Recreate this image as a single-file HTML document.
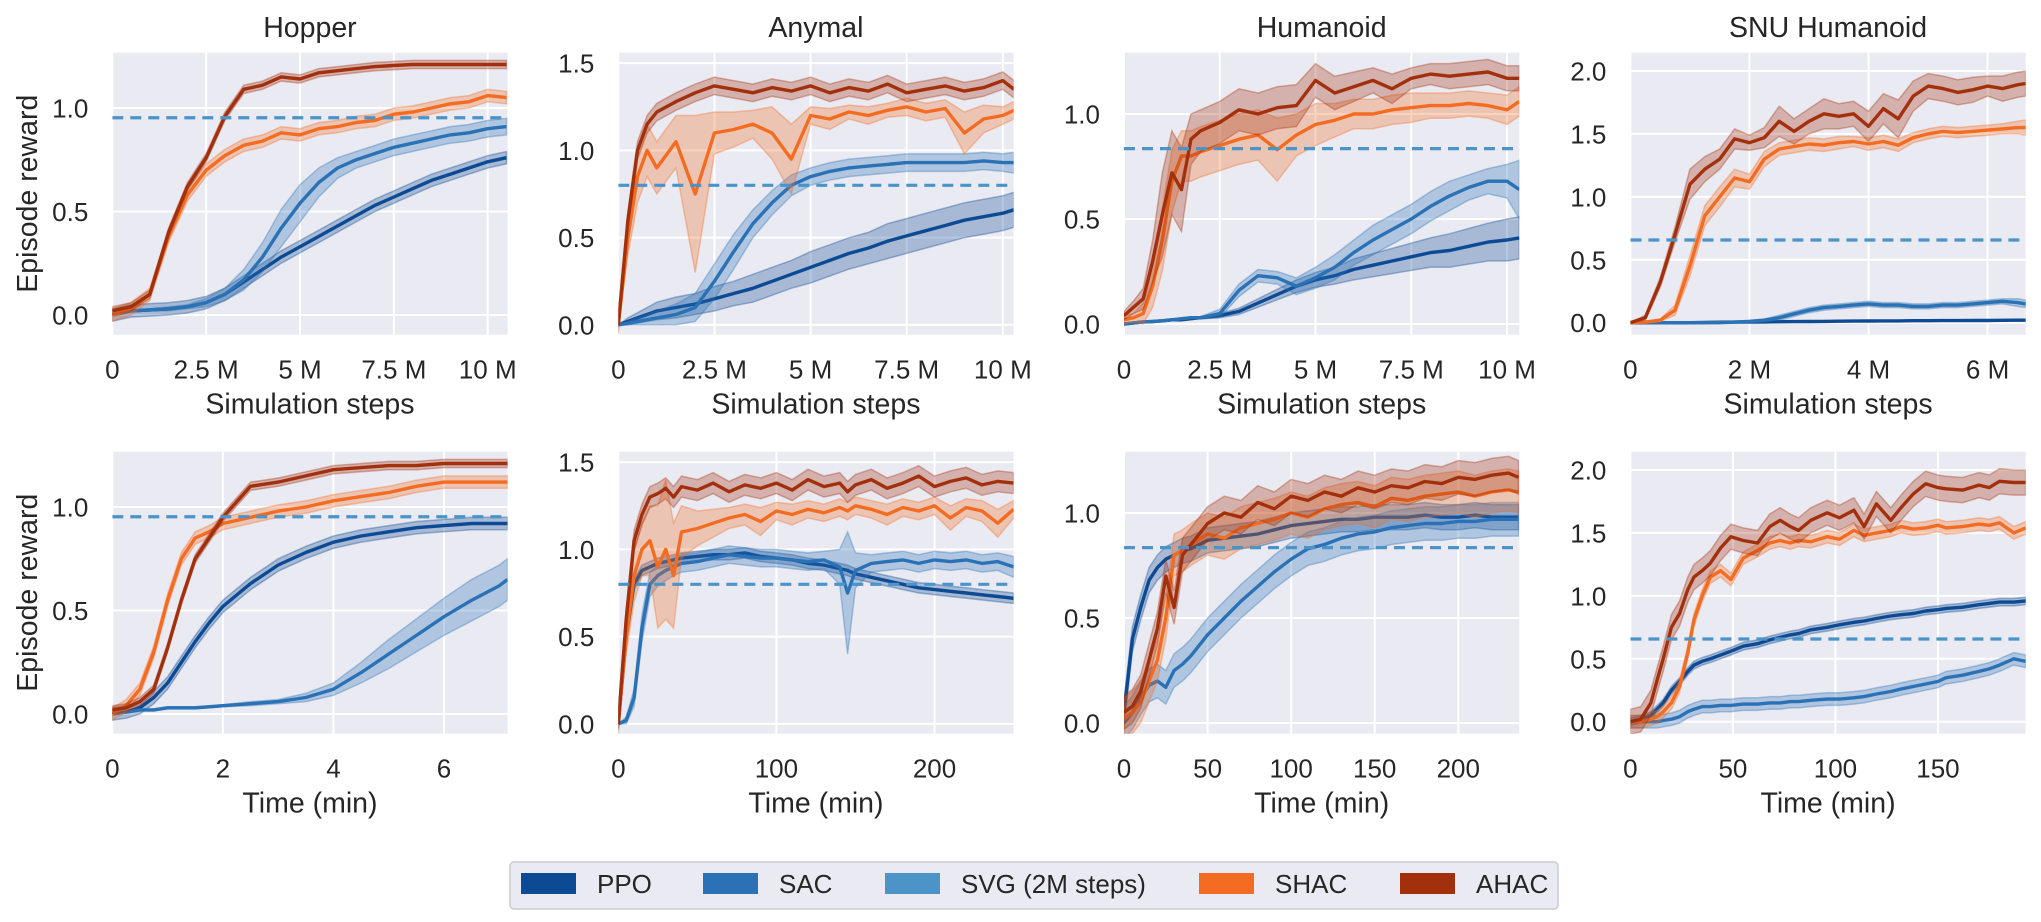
<!DOCTYPE html>
<html><head><meta charset="utf-8">
<style>
html,body{margin:0;padding:0;background:#fff;}
svg{display:block;font-family:"Liberation Sans",Arial,sans-serif;}
</style></head>
<body>
<svg id="chart" width="2041" height="922" viewBox="0 0 2041 922" xmlns="http://www.w3.org/2000/svg"></svg>
<script>
// ---------- data ----------
const titles = ["Hopper","Anymal","Humanoid","SNU Humanoid"];
const svgBaseline = [0.953, 0.80, 0.835, 0.657];

const hopperStepsX = [0,0.5,1,1.5,2,2.5,3,3.5,4,4.5,5,5.5,6,6.5,7,7.5,8,8.5,9,9.5,10,10.5];
const hopperStepsAHAC = [0.02,0.04,0.10,0.40,0.62,0.76,0.96,1.09,1.11,1.15,1.14,1.17,1.18,1.19,1.20,1.205,1.21,1.21,1.21,1.21,1.21,1.21];
const hopperStepsSHAC = [0.0,0.03,0.10,0.38,0.58,0.70,0.77,0.82,0.84,0.88,0.87,0.90,0.91,0.93,0.94,0.97,0.98,1.00,1.02,1.03,1.06,1.05];
const hopperStepsSAC = [0,0.02,0.025,0.03,0.04,0.06,0.10,0.17,0.28,0.42,0.54,0.64,0.71,0.75,0.78,0.81,0.83,0.85,0.87,0.88,0.90,0.91];
const hopperStepsSACSpread = [0,0.005,0.005,0.01,0.01,0.02,0.03,0.05,0.07,0.09,0.09,0.07,0.05,0.04,0.04,0.04,0.04,0.04,0.04,0.04,0.04,0.04];
const hopperStepsPPO = [0,0.02,0.025,0.03,0.04,0.06,0.10,0.16,0.22,0.28,0.33,0.38,0.43,0.48,0.53,0.57,0.61,0.65,0.68,0.71,0.74,0.76];

const hopperTimeX = [0,0.25,0.5,0.75,1,1.25,1.5,1.75,2,2.5,3,3.5,4,4.5,5,5.5,6,6.5,7,7.15];
const hopperTimeAHAC = [0.02,0.03,0.06,0.12,0.32,0.55,0.75,0.85,0.95,1.10,1.12,1.15,1.18,1.19,1.20,1.20,1.21,1.21,1.21,1.21];
const hopperTimeSHAC = [0.0,0.04,0.12,0.30,0.55,0.75,0.85,0.88,0.92,0.95,0.98,1.00,1.03,1.05,1.07,1.10,1.12,1.12,1.12,1.12];
const hopperTimePPO = [0,0.01,0.03,0.08,0.15,0.25,0.35,0.44,0.52,0.63,0.72,0.78,0.83,0.86,0.88,0.90,0.91,0.92,0.92,0.92];
const hopperTimeSAC = [0,0.01,0.02,0.02,0.03,0.03,0.03,0.035,0.04,0.05,0.06,0.08,0.12,0.20,0.29,0.38,0.47,0.55,0.62,0.65];
const hopperTimeSACSpread = [0,0.005,0.005,0.005,0.005,0.005,0.005,0.005,0.005,0.01,0.01,0.02,0.03,0.05,0.07,0.08,0.09,0.10,0.10,0.10];

const anymalStepsX = [0,0.25,0.5,0.75,1,1.5,2,2.5,3,3.5,4,4.5,5,5.5,6,6.5,7,7.5,8,8.5,9,9.5,10,10.29];
const anymalStepsAHAC = [0,0.6,1.0,1.15,1.22,1.28,1.33,1.37,1.35,1.33,1.36,1.34,1.37,1.33,1.36,1.34,1.38,1.33,1.35,1.37,1.34,1.36,1.40,1.35];
const anymalStepsSHAC = [0,0.5,0.85,1.0,0.9,1.05,0.75,1.1,1.12,1.15,1.1,0.95,1.2,1.18,1.22,1.2,1.23,1.25,1.22,1.24,1.1,1.18,1.2,1.23];
const anymalStepsSHACSpread = [0,0.1,0.15,0.15,0.15,0.15,0.45,0.12,0.1,0.08,0.15,0.2,0.05,0.06,0.04,0.05,0.04,0.05,0.05,0.05,0.12,0.08,0.05,0.05];
const anymalStepsSAC = [0,0.01,0.02,0.03,0.04,0.06,0.1,0.25,0.42,0.58,0.7,0.8,0.85,0.88,0.9,0.91,0.92,0.93,0.93,0.93,0.93,0.94,0.93,0.93];
const anymalStepsSACSpread = [0,0.01,0.02,0.03,0.04,0.06,0.08,0.1,0.1,0.08,0.07,0.06,0.05,0.05,0.05,0.05,0.05,0.05,0.05,0.05,0.05,0.05,0.05,0.06];
const anymalStepsPPO = [0,0.02,0.04,0.06,0.08,0.1,0.12,0.15,0.18,0.21,0.25,0.29,0.33,0.37,0.41,0.44,0.48,0.51,0.54,0.57,0.6,0.62,0.64,0.66];
const anymalStepsPPOSpread = [0,0.02,0.03,0.04,0.05,0.06,0.06,0.07,0.07,0.08,0.08,0.08,0.09,0.09,0.09,0.09,0.1,0.1,0.1,0.1,0.1,0.1,0.1,0.1];

const anymalTimeX = [0,5,10,15,20,25,30,35,40,50,60,70,80,90,100,110,120,130,140,145,150,160,170,180,190,200,210,220,230,240,250];
const anymalTimeAHAC = [0,0.6,1.05,1.2,1.3,1.32,1.35,1.3,1.36,1.34,1.38,1.33,1.37,1.35,1.38,1.34,1.4,1.36,1.38,1.33,1.37,1.4,1.35,1.38,1.42,1.36,1.39,1.41,1.37,1.39,1.38];
const anymalTimeSHAC = [0,0.5,0.85,1.0,1.05,0.9,1.0,0.85,1.1,1.12,1.15,1.18,1.2,1.16,1.22,1.2,1.23,1.21,1.24,1.22,1.25,1.23,1.2,1.24,1.22,1.25,1.18,1.24,1.22,1.15,1.23];
const anymalTimeSHACSpread = [0,0.1,0.15,0.15,0.2,0.35,0.4,0.3,0.15,0.1,0.08,0.06,0.06,0.08,0.05,0.06,0.05,0.05,0.05,0.05,0.05,0.05,0.06,0.05,0.05,0.05,0.07,0.05,0.06,0.08,0.05];
const anymalTimeSAC = [0,0.02,0.15,0.55,0.8,0.85,0.88,0.9,0.92,0.93,0.95,0.97,0.96,0.95,0.95,0.94,0.93,0.94,0.9,0.75,0.88,0.92,0.93,0.94,0.92,0.94,0.93,0.94,0.92,0.93,0.9];
const anymalTimeSACSpread = [0,0.02,0.05,0.08,0.07,0.06,0.06,0.05,0.05,0.05,0.05,0.05,0.05,0.05,0.05,0.05,0.05,0.05,0.1,0.35,0.1,0.05,0.05,0.05,0.05,0.05,0.05,0.05,0.05,0.05,0.06];
const anymalTimePPO = [0,0.5,0.8,0.88,0.9,0.92,0.93,0.94,0.95,0.96,0.97,0.97,0.98,0.96,0.95,0.94,0.92,0.91,0.89,0.88,0.86,0.84,0.82,0.8,0.78,0.77,0.76,0.75,0.74,0.73,0.72];

const humStepsX = [0,0.25,0.5,0.75,1,1.25,1.5,1.75,2,2.5,3,3.5,4,4.5,5,5.5,6,6.5,7,7.5,8,8.5,9,9.5,10,10.32];
const humStepsAHAC = [0.04,0.08,0.12,0.3,0.52,0.72,0.64,0.88,0.92,0.96,1.02,1.0,1.03,1.04,1.16,1.1,1.13,1.16,1.12,1.17,1.19,1.18,1.19,1.2,1.17,1.17];
const humStepsAHACSpread = [0.02,0.03,0.05,0.1,0.2,0.2,0.2,0.12,0.1,0.1,0.1,0.1,0.1,0.1,0.08,0.08,0.07,0.06,0.07,0.05,0.05,0.06,0.06,0.06,0.06,0.06];
const humStepsSHAC = [0.02,0.03,0.05,0.18,0.4,0.68,0.8,0.8,0.82,0.85,0.88,0.9,0.83,0.9,0.95,0.97,1.0,1.0,1.02,1.03,1.04,1.04,1.05,1.04,1.02,1.06];
const humStepsSHACSpread = [0.02,0.02,0.05,0.1,0.15,0.15,0.12,0.12,0.12,0.12,0.12,0.12,0.15,0.1,0.1,0.08,0.07,0.07,0.07,0.07,0.06,0.06,0.06,0.06,0.07,0.07];
const humStepsSAC = [0,0.005,0.01,0.012,0.015,0.02,0.025,0.03,0.03,0.05,0.16,0.23,0.22,0.18,0.22,0.27,0.34,0.40,0.45,0.50,0.56,0.61,0.65,0.68,0.68,0.64];
const humStepsSACSpread = [0,0,0,0,0,0,0,0,0.005,0.02,0.03,0.03,0.03,0.04,0.05,0.06,0.06,0.07,0.07,0.07,0.07,0.07,0.06,0.06,0.08,0.14];
const humStepsPPO = [0,0.005,0.01,0.012,0.015,0.02,0.02,0.025,0.03,0.04,0.06,0.1,0.14,0.18,0.21,0.23,0.26,0.28,0.30,0.32,0.34,0.35,0.37,0.39,0.40,0.41];
const humStepsPPOSpread = [0,0,0,0,0,0,0,0,0.005,0.01,0.015,0.02,0.025,0.03,0.035,0.04,0.05,0.055,0.06,0.065,0.07,0.08,0.085,0.09,0.1,0.1];

const humTimeX = [0,5,10,15,20,25,30,35,40,50,60,70,80,90,100,110,120,130,140,150,160,170,180,190,200,210,220,230,236];
const humTimeAHAC = [0.05,0.08,0.15,0.3,0.45,0.7,0.55,0.8,0.85,0.95,1.0,0.98,1.05,1.02,1.08,1.06,1.1,1.08,1.12,1.1,1.13,1.12,1.15,1.14,1.17,1.16,1.18,1.19,1.17];
const humTimeSHAC = [0.02,0.05,0.1,0.2,0.3,0.5,0.8,0.82,0.85,0.9,0.88,0.93,0.95,0.97,1.0,0.98,1.02,1.04,1.05,1.03,1.07,1.06,1.08,1.09,1.1,1.08,1.1,1.11,1.1];
const humTimePPO = [0.05,0.4,0.55,0.68,0.74,0.78,0.8,0.82,0.83,0.87,0.88,0.89,0.9,0.92,0.94,0.95,0.96,0.97,0.97,0.98,0.98,0.98,0.99,0.98,0.98,0.99,0.98,0.98,0.98];
const humTimeSAC = [0,0.05,0.12,0.18,0.2,0.17,0.25,0.28,0.32,0.42,0.5,0.58,0.65,0.72,0.78,0.83,0.85,0.88,0.9,0.91,0.93,0.94,0.95,0.95,0.96,0.96,0.97,0.97,0.97];

const snuStepsX = [0,0.25,0.5,0.75,1,1.25,1.5,1.75,2,2.25,2.5,2.75,3,3.25,3.5,3.75,4,4.25,4.5,4.75,5,5.25,5.5,5.75,6,6.25,6.5,6.64];
const snuStepsAHAC = [0,0.04,0.32,0.7,1.1,1.22,1.3,1.46,1.43,1.47,1.6,1.52,1.6,1.66,1.64,1.66,1.56,1.7,1.62,1.8,1.88,1.86,1.83,1.85,1.88,1.86,1.89,1.90];
const snuStepsAHACSpread = [0,0.02,0.04,0.06,0.12,0.1,0.08,0.08,0.06,0.08,0.12,0.1,0.1,0.12,0.1,0.1,0.12,0.12,0.15,0.12,0.1,0.1,0.1,0.1,0.08,0.1,0.1,0.1];
const snuStepsSHAC = [0,0.005,0.02,0.1,0.45,0.85,1.0,1.15,1.12,1.3,1.38,1.4,1.42,1.41,1.43,1.44,1.42,1.44,1.41,1.47,1.50,1.52,1.51,1.52,1.53,1.54,1.55,1.55];
const snuStepsSHACSpread = [0,0.005,0.01,0.04,0.08,0.08,0.08,0.07,0.06,0.06,0.05,0.05,0.05,0.05,0.05,0.04,0.05,0.05,0.05,0.04,0.04,0.04,0.04,0.04,0.04,0.04,0.05,0.06];
const snuStepsSAC = [0,0,0,0,0,0,0,0.005,0.01,0.02,0.04,0.07,0.1,0.12,0.13,0.14,0.15,0.14,0.14,0.13,0.13,0.14,0.14,0.15,0.16,0.17,0.16,0.15];
const snuStepsSACSpread = [0,0,0,0,0,0,0,0.005,0.01,0.01,0.02,0.02,0.02,0.02,0.02,0.02,0.02,0.02,0.02,0.02,0.02,0.02,0.02,0.02,0.02,0.02,0.03,0.03];
const snuStepsPPO = [0,0,0,0,0,0.002,0.004,0.005,0.006,0.007,0.008,0.009,0.01,0.011,0.012,0.013,0.014,0.015,0.015,0.016,0.016,0.017,0.017,0.018,0.018,0.019,0.02,0.02];

const snuTimeX = [0,5,10,13,16,20,24,28,31,35,39,44,49,55,62,68,73,78,82,88,96,102,109,114,120,127,132,138,144,150,154,162,170,175,180,187,192.8];
const snuTimeAHAC = [0,0.02,0.15,0.33,0.5,0.75,0.86,1.05,1.15,1.2,1.26,1.38,1.47,1.44,1.42,1.55,1.60,1.55,1.52,1.60,1.66,1.62,1.68,1.55,1.73,1.60,1.70,1.81,1.89,1.86,1.85,1.84,1.88,1.86,1.91,1.90,1.90];
const snuTimeSHAC = [0,0,0.02,0.04,0.08,0.15,0.28,0.55,0.81,1.0,1.15,1.2,1.13,1.3,1.36,1.42,1.44,1.42,1.44,1.43,1.47,1.45,1.52,1.48,1.50,1.52,1.55,1.53,1.54,1.56,1.54,1.55,1.57,1.56,1.58,1.50,1.54];
const snuTimePPO = [0,0.02,0.05,0.1,0.15,0.25,0.32,0.4,0.45,0.48,0.5,0.53,0.56,0.6,0.62,0.65,0.67,0.69,0.7,0.73,0.75,0.77,0.79,0.8,0.82,0.84,0.85,0.86,0.88,0.89,0.9,0.91,0.93,0.94,0.95,0.95,0.96];
const snuTimeSAC = [0,0,0,0,0.01,0.02,0.04,0.08,0.1,0.12,0.12,0.13,0.13,0.14,0.14,0.15,0.15,0.16,0.16,0.17,0.18,0.18,0.19,0.2,0.22,0.24,0.26,0.28,0.3,0.32,0.35,0.37,0.4,0.42,0.45,0.5,0.48];

const xTicksSteps = [[0,2.5,5,7.5,10],[0,2.5,5,7.5,10],[0,2.5,5,7.5,10],[0,2,4,6]];
const xTickLabelsSteps = [["0","2.5 M","5 M","7.5 M","10 M"],["0","2.5 M","5 M","7.5 M","10 M"],["0","2.5 M","5 M","7.5 M","10 M"],["0","2 M","4 M","6 M"]];
const xTicksTime = [[0,2,4,6],[0,100,200],[0,50,100,150,200],[0,50,100,150]];
const yTicks = [[0,0.5,1.0],[0,0.5,1.0,1.5],[0,0.5,1.0],[0,0.5,1.0,1.5,2.0]];
const legendLabels = ["PPO","SAC","SVG (2M steps)","SHAC","AHAC"];

// ---------- layout ----------
const COLORS = {PPO:"#0c4a93", SAC:"#2a72b5", SVG:"#4a94c8", SHAC:"#f36c21", AHAC:"#a3300c"};
const colLeft = [112.3, 618.3, 1124, 1630.4];
const plotW = 395.3, plotH = 282;
const rowTop = [52.7, 451.7];
const yDom = [[-0.095,1.267],[-0.056,1.560],[-0.051,1.292],[-0.095,2.145]];
const xDomSteps = [10.53, 10.28, 10.32, 6.64];
const xDomTime = [7.15, 250, 236.5, 192.8];
const TICK_FS = 26, LABEL_FS = 28.5;

const panels = [
 {c:0,r:0,x:hopperStepsX,s:[["PPO",hopperStepsPPO,0.03],["SAC",hopperStepsSAC,hopperStepsSACSpread],["SHAC",hopperStepsSHAC,0.03],["AHAC",hopperStepsAHAC,0.02]]},
 {c:1,r:0,x:anymalStepsX,s:[["PPO",anymalStepsPPO,anymalStepsPPOSpread],["SAC",anymalStepsSAC,anymalStepsSACSpread],["SHAC",anymalStepsSHAC,anymalStepsSHACSpread],["AHAC",anymalStepsAHAC,0.05]]},
 {c:2,r:0,x:humStepsX,s:[["PPO",humStepsPPO,humStepsPPOSpread],["SAC",humStepsSAC,humStepsSACSpread],["SHAC",humStepsSHAC,humStepsSHACSpread],["AHAC",humStepsAHAC,humStepsAHACSpread]]},
 {c:3,r:0,x:snuStepsX,s:[["PPO",snuStepsPPO,0.005],["SAC",snuStepsSAC,snuStepsSACSpread],["SHAC",snuStepsSHAC,snuStepsSHACSpread],["AHAC",snuStepsAHAC,snuStepsAHACSpread]]},
 {c:0,r:1,x:hopperTimeX,s:[["PPO",hopperTimePPO,0.03],["SAC",hopperTimeSAC,hopperTimeSACSpread],["SHAC",hopperTimeSHAC,0.03],["AHAC",hopperTimeAHAC,0.02]]},
 {c:1,r:1,x:anymalTimeX,s:[["PPO",anymalTimePPO,0.03],["SAC",anymalTimeSAC,anymalTimeSACSpread],["SHAC",anymalTimeSHAC,anymalTimeSHACSpread],["AHAC",anymalTimeAHAC,0.06]]},
 {c:2,r:1,x:humTimeX,s:[["PPO",humTimePPO,0.06],["SAC",humTimeSAC,0.08],["SHAC",humTimeSHAC,0.1],["AHAC",humTimeAHAC,0.08]]},
 {c:3,r:1,x:snuTimeX,s:[["PPO",snuTimePPO,0.03],["SAC",snuTimeSAC,0.05],["SHAC",snuTimeSHAC,0.05],["AHAC",snuTimeAHAC,0.1]]}
];

const NS = "http://www.w3.org/2000/svg";
const svg = document.getElementById("chart");
function mk(tag, attrs, parent){
  const e = document.createElementNS(NS, tag);
  for (const k in attrs) e.setAttribute(k, attrs[k]);
  (parent||svg).appendChild(e);
  return e;
}
function fmt(v){return v.toFixed(1);}

const defs = mk("defs",{});
panels.forEach((p, idx) => {
  const L = colLeft[p.c], T = rowTop[p.r];
  const xMax = p.r===0 ? xDomSteps[p.c] : xDomTime[p.c];
  const [y0,y1] = yDom[p.c];
  const X = v => L + v / xMax * plotW;
  const Y = v => T + plotH - (v - y0) / (y1 - y0) * plotH;
  const g = mk("g",{});
  
  
  const bg = mk("rect",{x:L,y:T,width:plotW,height:plotH,fill:"#eaeaf2"},g);
  
  
  const xt = p.r===0 ? xTicksSteps[p.c] : xTicksTime[p.c];
  const xl = p.r===0 ? xTickLabelsSteps[p.c] : xTicksTime[p.c].map(String);
  xt.forEach((t,i) => {
    const gl = mk("line",{x1:X(t),x2:X(t),y1:T,y2:T+plotH,stroke:"#fff","stroke-width":2},g);
    
    
    const tl = mk("text",{x:X(t),y:T+plotH+44,"font-size":TICK_FS,fill:"#262626","text-anchor":"middle"},g);
    tl.textContent = xl[i];
    
    
  });
  yTicks[p.c].forEach(t => {
    const gl = mk("line",{x1:L,x2:L+plotW,y1:Y(t),y2:Y(t),stroke:"#fff","stroke-width":2},g);
    
    
    const tl = mk("text",{x:L-24,y:Y(t)+9.5,"font-size":TICK_FS,fill:"#262626","text-anchor":"end"},g);
    tl.textContent = fmt(t);
    
    
  });
  const cp = mk("clipPath",{id:"clip"+idx},defs);
  mk("rect",{x:L,y:T,width:plotW,height:plotH},cp);
  const dg = mk("g",{"clip-path":"url(#clip"+idx+")"},g);
  p.s.forEach(([name, vals, spread]) => {
    const sp = i => Array.isArray(spread) ? spread[i] : spread;
    const up = vals.map((v,i)=>X(p.x[i]).toFixed(1)+","+Y(v+sp(i)).toFixed(1));
    const lo = vals.map((v,i)=>X(p.x[i]).toFixed(1)+","+Y(v-sp(i)).toFixed(1)).reverse();
    const band = mk("polygon",{points:up.concat(lo).join(" "),fill:COLORS[name],"fill-opacity":0.3,stroke:COLORS[name],"stroke-opacity":0.35,"stroke-width":1.5},dg);
    
    
    const line = mk("polyline",{points:vals.map((v,i)=>X(p.x[i]).toFixed(1)+","+Y(v).toFixed(1)).join(" "),fill:"none",stroke:COLORS[name],"stroke-width":3.4,"stroke-linejoin":"round"},dg);
    
    
  });
  const dl = mk("line",{x1:L,x2:L+plotW,y1:Y(svgBaseline[p.c]),y2:Y(svgBaseline[p.c]),stroke:COLORS.SVG,"stroke-width":3.2,"stroke-dasharray":"11,7"},dg);
  
  
  if (p.r===0){
    const tt = mk("text",{x:L+plotW/2,y:37,"font-size":LABEL_FS,fill:"#262626","text-anchor":"middle"},g);
    tt.textContent = titles[p.c];
    
    
  }
  const xlab = mk("text",{x:L+plotW/2,y:T+plotH+79,"font-size":LABEL_FS,fill:"#262626","text-anchor":"middle"},g);
  xlab.textContent = p.r===0 ? "Simulation steps" : "Time (min)";
  
  
  if (p.c===0){
    const cy = T+plotH/2;
    const yl = mk("text",{x:0,y:0,"font-size":LABEL_FS,fill:"#262626","text-anchor":"middle",transform:"translate(37,"+cy+") rotate(-90)"},g);
    yl.textContent = "Episode reward";
    
    
  }
});

// legend
const lg = mk("g",{});


mk("rect",{x:510,y:862,width:1048,height:47,rx:4,fill:"#eaeaf2",stroke:"#cccccc","stroke-width":1.5},lg);
const legKeys = ["PPO","SAC","SVG","SHAC","AHAC"];
const patchX = [521, 703, 885, 1199, 1400];
legKeys.forEach((k,i) => {
  const pr = mk("rect",{x:patchX[i],y:873,width:55,height:21,fill:COLORS[k]},lg);
  
  
  const t = mk("text",{x:patchX[i]+76,y:893,"font-size":26,fill:"#262626"},lg);
  t.textContent = legendLabels[i];
  
  
});
</script>
</body></html>
